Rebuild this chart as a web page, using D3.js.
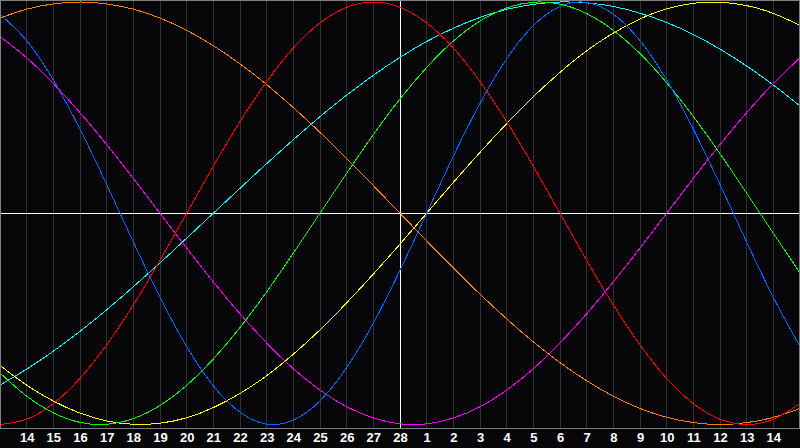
<!DOCTYPE html>
<html><head><meta charset="utf-8">
<script src="https://cdn.jsdelivr.net/npm/d3@7"></script>
<style>html,body{margin:0;padding:0;background:#060508;overflow:hidden}</style>
</head><body><svg id="c" width="800" height="448"></svg>
<script>
// day labels at grid positions 1..29
const dayLabels = ["14","15","16","17","18","19","20","21","22","23","24","25","26","27","28",
  "1","2","3","4","5","6","7","8","9","10","11","12","13","14"];
// values per day position 0..30 (-1..1)
const physical = [0.942,0.817,0.631,0.398,0.136,-0.136,-0.398,-0.631,-0.817,-0.942,-0.998,-0.979,-0.888,-0.731,-0.520,-0.270,
  0,0.270,0.520,0.731,0.888,0.979,0.998,0.942,0.817,0.631,0.398,0.136,-0.136,-0.398,-0.631];
const emotional = [-1,-0.975,-0.901,-0.782,-0.623,-0.434,-0.223,0,0.223,0.434,0.623,0.782,0.901,0.975,1,0.975,
  0.901,0.782,0.623,0.434,0.223,0,-0.223,-0.434,-0.623,-0.782,-0.901,-0.975,-1,-0.975,-0.901];
const intellectual = [-0.756,-0.866,-0.945,-0.990,-0.999,-0.972,-0.910,-0.815,-0.690,-0.541,-0.372,-0.189,0,0.189,0.372,0.541,
  0.690,0.815,0.910,0.972,0.999,0.990,0.945,0.866,0.756,0.618,0.458,0.282,0.095,-0.095,-0.282];
const intuitive = [0.837,0.736,0.614,0.476,0.325,0.165,0,-0.165,-0.325,-0.476,-0.614,-0.736,-0.837,-0.916,-0.969,-0.997,
  -0.997,-0.969,-0.916,-0.837,-0.736,-0.614,-0.476,-0.325,-0.165,0,0.165,0.325,0.476,0.614,0.736];
const aesthetic = [-0.720,-0.814,-0.889,-0.946,-0.983,-0.999,-0.994,-0.968,-0.920,-0.853,-0.769,-0.667,-0.552,-0.424,-0.288,-0.146,
  0,0.146,0.288,0.424,0.552,0.667,0.769,0.853,0.920,0.968,0.994,0.999,0.983,0.946,0.889];
const awareness = [0.924,0.966,0.991,1,0.991,0.966,0.924,0.866,0.793,0.707,0.609,0.5,0.383,0.259,0.131,0,
  -0.131,-0.259,-0.383,-0.5,-0.609,-0.707,-0.793,-0.866,-0.924,-0.966,-0.991,-1,-0.991,-0.966,-0.924];
const spiritual = [-0.813,-0.738,-0.653,-0.559,-0.457,-0.348,-0.235,-0.118,0,0.118,0.235,0.348,0.457,0.559,0.653,0.738,
  0.813,0.876,0.927,0.965,0.989,1.000,0.996,0.979,0.947,0.903,0.846,0.777,0.697,0.607,0.508];

const seriesList = [spiritual, awareness, aesthetic, intuitive, intellectual, emotional, physical];
const seriesColors = ["#00ffff","#ff8000","#ffff00","#ff00ff","#00ff00","#ff0000","#0064ff"];

const W = 800, plotBottom = 428;
const svg = d3.select("#c");
svg.append("rect").attr("width",800).attr("height",448).attr("fill","#060508");

const x = d3.scaleLinear().domain([0,30]).range([0,W]);
const y = d3.scaleLinear().domain([-1,1]).range([424.5,2]);

// vertical grid
const gridIdx = d3.range(1,30);
svg.append("g").selectAll("line").data(gridIdx).join("line")
  .attr("x1",d=>Math.floor(x(d))+0.5).attr("x2",d=>Math.floor(x(d))+0.5)
  .attr("y1",0).attr("y2",plotBottom)
  .attr("stroke",d=>d===15?"#ffffff":"#303030").attr("stroke-width",1)
  .attr("shape-rendering","crispEdges");

// horizontal zero line
svg.append("line").attr("x1",0).attr("x2",W)
  .attr("y1",Math.floor(y(0))+0.5).attr("y2",Math.floor(y(0))+0.5)
  .attr("stroke","#ffffff").attr("shape-rendering","crispEdges");

// curves
const line = d3.line().x((d,i)=>x(i)).y(d=>y(d)).curve(d3.curveNatural);
const cg = svg.append("g");
seriesList.forEach((s,j)=>{
  cg.append("path").attr("d",line(s)).attr("fill","none")
    .attr("stroke",seriesColors[j]).attr("stroke-width",1)
    .attr("shape-rendering","crispEdges");
});

// frame
svg.append("rect").attr("x",0.5).attr("y",0.5).attr("width",W-1).attr("height",plotBottom)
  .attr("fill","none").attr("stroke","#808080").attr("shape-rendering","crispEdges");

// axis labels
const axis = d3.axisBottom(x).tickValues(gridIdx).tickFormat(d=>dayLabels[d-1]).tickSize(0).tickPadding(0);
const ag = svg.append("g").attr("transform",`translate(0,${plotBottom+5})`).call(axis);
ag.select(".domain").remove();
ag.selectAll("text").attr("fill","#ffffff").attr("font-family","'Liberation Sans', Arial, sans-serif")
  .attr("font-weight","bold").attr("font-size","13px").attr("dy","0.71em");
</script></body></html>
